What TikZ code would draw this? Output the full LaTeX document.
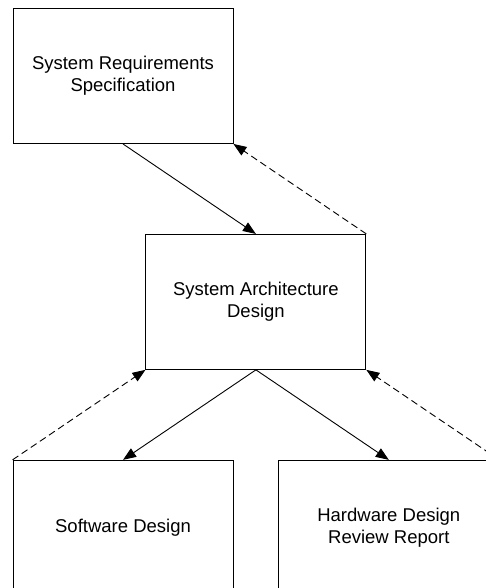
\documentclass[tikz,border=0pt]{standalone}
\usepackage{fontspec}
\setmainfont{Liberation Sans}
\usetikzlibrary{arrows.meta,positioning}

\begin{document}
\begin{tikzpicture}[x=1pt,y=-1pt,->,>={Triangle[length=13pt,width=10pt]},line width=0.9pt]
  \tikzstyle{doc}=[draw=black,minimum width=220pt,minimum height=135pt,inner sep=0pt,
    align=center,font=\fontsize{18.5}{22}\selectfont]
  \tikzstyle{back}=[dash pattern=on 7pt off 4pt]
\useasboundingbox (0,0) rectangle (486,588);
\node[doc] (srs) at (123,76) {System Requirements\\Specification};
\node[doc] (sad) [below right=90pt and -88pt of srs] {System Architecture\\Design};
\node[doc] (swd) [below left=90pt and -88pt of sad] {Software Design};
\node[doc] (hwd) [below right=90pt and -88pt of sad] {Hardware Design\\Review Report};
\path
(srs.south) edge (sad.north)
(sad.north east) edge [back] (srs.south east)
(sad.south) edge (swd.north)
(sad.south) edge (hwd.north)
(swd.north west) edge [back] (sad.south west)
(hwd.north east) edge [back] (sad.south east);
\end{tikzpicture}
\end{document}
